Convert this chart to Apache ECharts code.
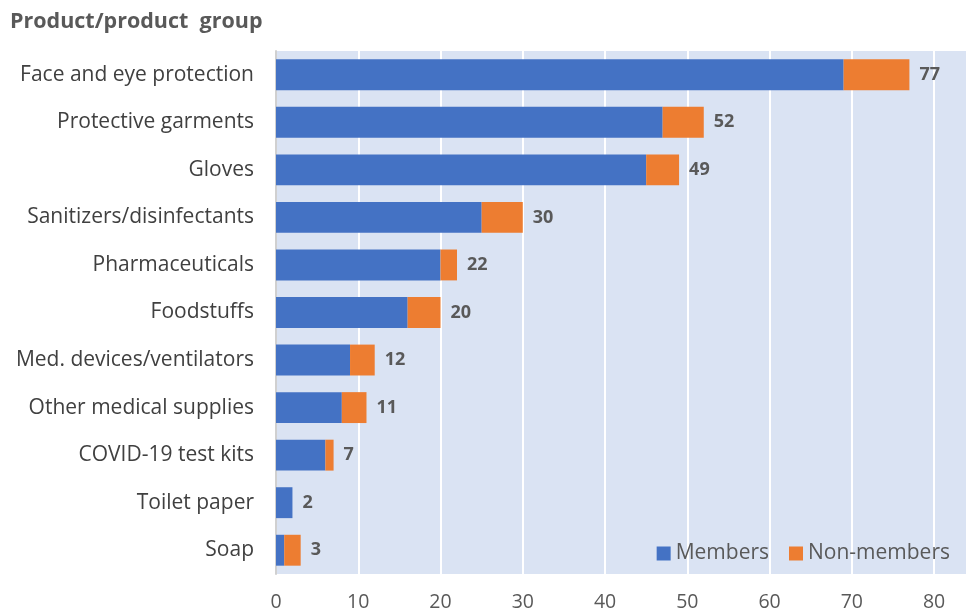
<!DOCTYPE html>
<html>
<head>
<meta charset="utf-8">
<script src="https://cdn.jsdelivr.net/npm/echarts@6/dist/echarts.min.js"></script>
<style>
  html, body { margin: 0; padding: 0; background: #fff; }
  #chart { width: 967px; height: 612px; }
</style>
</head>
<body>
<div id="chart"></div>
<script>
const categories = [
  'Face and eye protection',
  'Protective garments',
  'Gloves',
  'Sanitizers/disinfectants',
  'Pharmaceuticals',
  'Foodstuffs',
  'Med. devices/ventilators',
  'Other medical supplies',
  'COVID-19 test kits',
  'Toilet paper',
  'Soap',
];
const members = [69, 47, 45, 25, 20, 16, 9, 8, 6, 2, 1];
const nonMembers = [8, 5, 4, 5, 2, 4, 3, 3, 1, 0, 2];
const totals = [77, 52, 49, 30, 22, 20, 12, 11, 7, 2, 3];
const xTicks = [0, 10, 20, 30, 40, 50, 60, 70, 80];

const chart = echarts.init(document.getElementById('chart'));

const option = {
  animation: false,
  textStyle: { fontFamily: 'Open Sans' },
  title: {
    text: 'Product/product  group',
    left: 5,
    top: 6,
    textStyle: { fontSize: 21.5, fontWeight: 'bold', color: '#595959', fontFamily: 'Open Sans' },
  },
  legend: {
    right: 12,
    top: 538,
    itemWidth: 14,
    itemHeight: 14,
    itemGap: 20,
    icon: 'rect',
    textStyle: { fontSize: 21, color: '#595959' },
    data: ['Members', 'Non-members'],
  },
  grid: {
    left: 276,
    right: 0,
    top: 51,
    bottom: 37,
    show: true,
    backgroundColor: '#DAE3F3',
    borderWidth: 0,
  },
  xAxis: {
    type: 'value',
    min: 0,
    max: 84,
    interval: 10,
    axisLine: { show: false },
    axisTick: { show: false },
    axisLabel: {
      fontSize: 19.5,
      color: '#595959',
      margin: 18,
      showMaxLabel: false,
      formatter: (v) => (xTicks.includes(v) ? String(v) : ''),
    },
    splitLine: { show: true, lineStyle: { color: '#ffffff', width: 2 } },
  },
  yAxis: {
    type: 'category',
    inverse: true,
    data: categories,
    axisLine: { show: true, lineStyle: { color: '#D0D0D0', width: 2 } },
    axisTick: { show: false },
    axisLabel: { fontSize: 21, color: '#404040', margin: 22 },
  },
  series: [
    {
      name: 'Members',
      type: 'bar',
      stack: 'total',
      data: members,
      barWidth: '65%',
      itemStyle: { color: '#4472C4' },
    },
    {
      name: 'Non-members',
      type: 'bar',
      stack: 'total',
      data: nonMembers,
      barWidth: '65%',
      itemStyle: { color: '#ED7D31' },
      label: {
        show: true,
        position: 'right',
        distance: 10,
        fontSize: 18,
        fontWeight: 'bold',
        color: '#595959',
        formatter: (p) => String(totals[p.dataIndex]),
      },
    },
  ],
};

chart.setOption(option);
</script>
</body>
</html>
